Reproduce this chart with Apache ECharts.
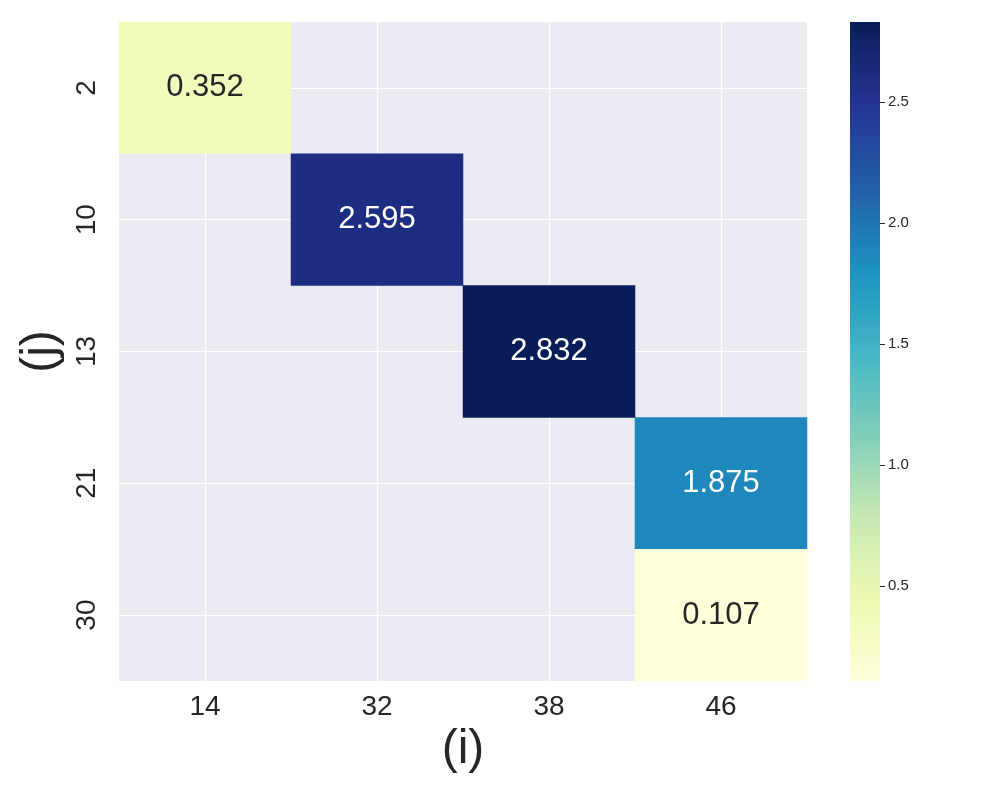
<!DOCTYPE html>
<html>
<head>
<meta charset="utf-8">
<script src="https://cdn.jsdelivr.net/npm/echarts@6/dist/echarts.min.js"></script>
<style>html,body{margin:0;padding:0;background:#fff}#c{width:1000px;height:800px}</style>
</head>
<body>
<div id="c"></div>
<script>
const xCategories = ['14', '32', '38', '46'];
const yCategories = ['2', '10', '13', '21', '30'];
// [xIndex, yIndex, value]
const cellValues = [
  [0, 0, 0.352],
  [1, 1, 2.595],
  [2, 2, 2.832],
  [3, 3, 1.875],
  [3, 4, 0.107]
];
const colorbarTicks = [0.5, 1.0, 1.5, 2.0, 2.5];
const vMin = 0.107, vMax = 2.832;
const ylgnbu = ['#ffffd9', '#edf8b1', '#c7e9b4', '#7fcdbb', '#41b6c4', '#1d91c0', '#225ea8', '#253494', '#081d58'];

const FONT = 'Liberation Sans, Arial, sans-serif';
const chart = echarts.init(document.getElementById('c'));

const heatData = cellValues.map(d => ({
  value: d,
  label: { color: (d[2] - vMin) / (vMax - vMin) > 0.5 ? '#ffffff' : '#262626' }
}));

const cbLeft = 850, cbTop = 22, cbW = 30, cbH = 659;

const option = {
  backgroundColor: '#ffffff',
  animation: false,
  grid: [
    { left: 119, right: 193, top: 22, bottom: 119, show: true, backgroundColor: '#EAEAF2', borderWidth: 0, outerBoundsMode: 'none', containLabel: false },
    { left: cbLeft + cbW, width: 40, top: cbTop, height: cbH, show: false, outerBoundsMode: 'none', containLabel: false }
  ],
  graphic: [{
    type: 'rect', left: cbLeft, top: cbTop, z: 0, silent: true,
    shape: { width: cbW, height: cbH },
    style: {
      fill: new echarts.graphic.LinearGradient(0, 1, 0, 0,
        ylgnbu.map((c, i) => ({ offset: i / (ylgnbu.length - 1), color: c })))
    }
  }],
  xAxis: [
    {
      type: 'category', data: xCategories, gridIndex: 0,
      name: '(i)', nameLocation: 'middle', nameGap: 43,
      nameTextStyle: { fontSize: 48, color: '#262626', fontFamily: FONT, verticalAlign: 'top' },
      axisLine: { show: false }, axisTick: { show: false }, splitLine: { show: false },
      axisLabel: { fontSize: 28, color: '#262626', fontFamily: FONT, margin: 12 }
    },
    { type: 'value', gridIndex: 1, show: false, min: 0, max: 1 }
  ],
  yAxis: [
    {
      type: 'category', data: yCategories, gridIndex: 0, inverse: true,
      name: '(j)', nameLocation: 'middle', nameGap: 47, nameRotate: 90,
      nameTextStyle: { fontSize: 48, color: '#262626', fontFamily: FONT, verticalAlign: 'bottom' },
      axisLine: { show: false }, axisTick: { show: false }, splitLine: { show: false },
      axisLabel: { fontSize: 28, color: '#262626', fontFamily: FONT, rotate: 90, margin: 18 }
    },
    {
      type: 'value', gridIndex: 1, position: 'left', min: vMin, max: vMax,
      axisLine: { show: false }, splitLine: { show: false },
      axisTick: { show: true, inside: true, length: 5, lineStyle: { color: '#262626', width: 1 }, customValues: colorbarTicks },
      axisLabel: { show: true, inside: true, fontSize: 15, color: '#262626', fontFamily: FONT, margin: 8,
        customValues: colorbarTicks, formatter: v => v.toFixed(1) }
    }
  ],
  visualMap: {
    type: 'continuous', min: vMin, max: vMax, calculable: false, show: false,
    seriesIndex: 0, inRange: { color: ylgnbu }
  },
  series: [
    {
      type: 'heatmap', xAxisIndex: 0, yAxisIndex: 0, data: heatData,
      label: { show: true, fontSize: 31, fontFamily: FONT, formatter: p => p.value[2].toFixed(3) },
      itemStyle: { borderWidth: 0 },
      emphasis: { disabled: true },
      markLine: {
        silent: true, symbol: 'none', z: 1,
        label: { show: false },
        lineStyle: { color: '#ffffff', width: 1.2, type: 'solid' },
        data: xCategories.map(c => ({ xAxis: c })).concat(yCategories.map(c => ({ yAxis: c })))
      }
    }
  ]
};
chart.setOption(option);
</script>
</body>
</html>
